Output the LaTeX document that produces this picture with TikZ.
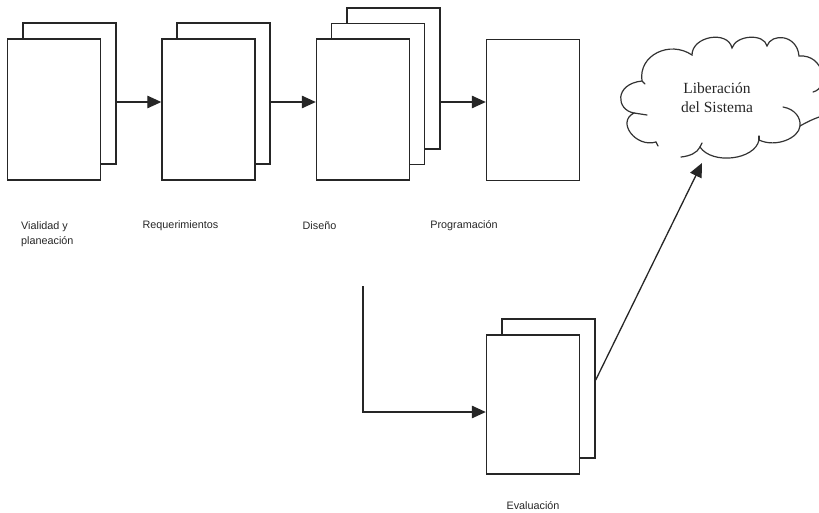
\documentclass[tikz,border=0pt]{standalone}
\usepackage{fontspec}
\setmainfont{Liberation Serif}
\newfontfamily\labelfont{Liberation Sans}
\usetikzlibrary{arrows.meta}
\begin{document}
\begin{tikzpicture}[x=1pt,y=-1pt,
  page/.style={draw=black!85, line width=1.4pt, fill=white, rectangle, inner sep=0pt, minimum width=93pt, minimum height=141pt},
  arr/.style={draw=black!85, line width=1.3pt, -{Triangle[length=14pt,width=12.5pt]}},
  lbl/.style={font=\labelfont\fontsize{10.8}{15.5}\selectfont, text=black!85, inner sep=0pt},
  cloudline/.style={draw=black!80, line width=1.2pt, line cap=round},
  ]
\useasboundingbox (0,0) rectangle (819,512);
% stage 1
\node[page] (v1b) at (69.5,93.5) {};
\node[page] (v1) at (54,109.5) {};
% stage 2
\node[page] (r1b) at (223.5,93.5) {};
\node[page] (r1) at (208.5,109.5) {};
% stage 3
\node[page] (d1c) at (393.5,78.5) {};
\node[page] (d1b) at (378,94) {};
\node[page] (d1) at (363,109.5) {};
% stage 4
\node[page] (p1) at (533,110) {};
% evaluation
\node[page, minimum height=139pt] (e1b) at (548.5,388.5) {};
\node[page, minimum height=139pt] (e1) at (533,404.5) {};

\coordinate (row) at (0,102);
\draw[arr] (v1b.east |- row) -- (r1.west |- row);
\draw[arr] (r1b.east |- row) -- (d1.west |- row);
\draw[arr] (d1c.east |- row) -- (p1.west |- row);

% labels
\node[lbl, anchor=west, align=left] (lv) at (21,234) {Vialidad y\\planeación};
\node[lbl] (lr) at (180.5,226) {Requerimientos};
\node[lbl] (ld) at (319.5,226) {Diseño};
\node[lbl] (lp) at (464,226) {Programación};
\node[lbl] (le) at (533,506) {Evaluación};

% design to evaluation
\coordinate (d0) at (363,286);
\coordinate (turn) at (0,412);
\draw[arr] (d0) -- (d0 |- turn) -- (e1.west |- turn);

% cloud
\draw[cloudline] (656,142) .. controls (636,148) and (616,122) .. (634,113)
  .. controls (616,110) and (614,84) .. (642,81)
  .. controls (638,55) and (670,40) .. (692,55)
  .. controls (692,36) and (728,30) .. (732,48)
  .. controls (736,35) and (764,33) .. (767,46)
  .. controls (771,33) and (797,34) .. (799,56)
  .. controls (824,54) and (830,88) .. (813,92);
\draw[cloudline] (783,107) .. controls (795,109) and (801,118) .. (800,126)
  .. controls (799,138) and (776,148) .. (759,140)
  .. controls (755,160) and (712,165) .. (700,147)
  .. controls (697,153) and (690,156) .. (681,157);
\draw[cloudline] (800,126) .. controls (807,122) and (813,119) .. (822,116);
% small overshoot ticks
\draw[cloudline] (634,113) -- (647,115);
\draw[cloudline] (642,81) -- (645,84);
\draw[cloudline] (759,140) -- (759,136);
\draw[cloudline] (700,147) -- (702,143);
\draw[cloudline] (656,142) -- (658,146);
\node[font=\fontsize{15.5}{19}\selectfont, text=black!85, align=center] (cl) at (717,98) {Liberación\\del Sistema};

\coordinate (ct) at (702,163);
\coordinate (erow) at (0,380);
\draw[arr] (e1b.east |- erow) -- (ct);
\end{tikzpicture}
\end{document}
